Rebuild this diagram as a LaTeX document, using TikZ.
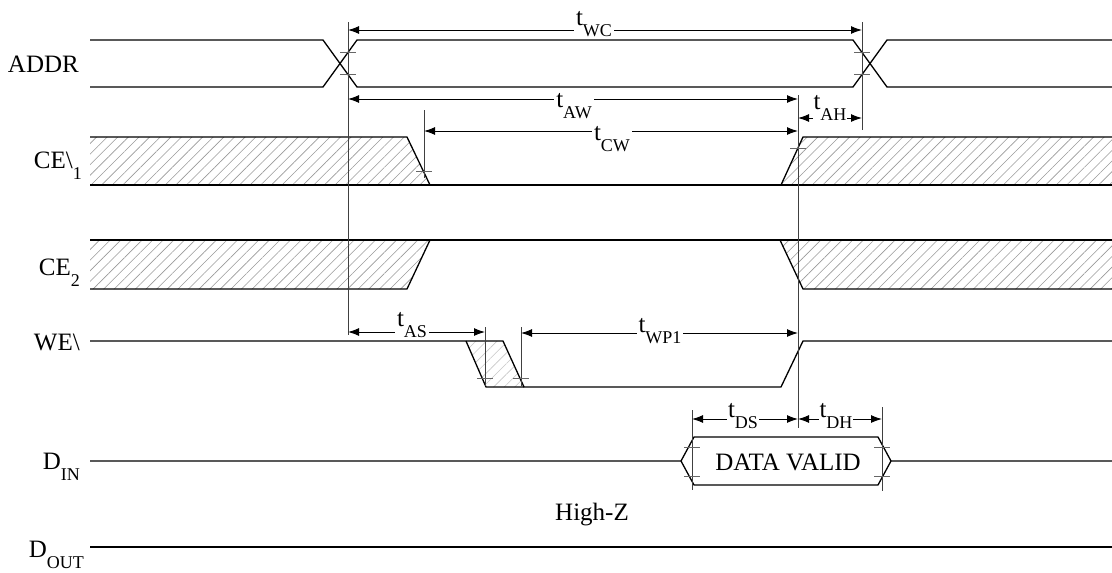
\documentclass[tikz,border=0pt]{standalone}
\usepackage{fontspec}
\setmainfont{Liberation Serif}
\usetikzlibrary{arrows.meta,patterns.meta}
\tikzstyle{sig}=[line width=1.3pt, line join=miter]
\tikzstyle{hatch}=[pattern={Lines[angle=45,distance=7.5pt,line width=0.6pt]}, pattern color=black!40]
\tikzstyle{guide}=[line width=0.9pt, black!75]
\tikzstyle{tick}=[line width=0.9pt, black!60]
\tikzstyle{dim}=[line width=1pt, {Latex[length=11pt,width=8pt]}-{Latex[length=11pt,width=8pt]}]
\tikzstyle{tname}=[fill=white, inner sep=2pt, anchor=base]
\tikzstyle{sname}=[anchor=base east, inner sep=0pt]
\newcommand{\lo}[2]{#1\raisebox{-11pt}{\fontsize{18}{18}\selectfont #2}}
\newcommand{\tmark}[2]{\draw[tick] (#1-8,#2) -- (#1+8,#2);}

\begin{document}
\begin{tikzpicture}[x=1pt, y=-1pt, font=\fontsize{25}{29}\selectfont]
\useasboundingbox (0,0) rectangle (1112,573);

% signal names
\node[sname] (addr) at (79,72) {ADDR};
\node[sname] (ce1) at (82,168) {\lo{CE\textbackslash}{1}};
\node[sname] (ce2) at (80,275) {\lo{CE}{2}};
\node[sname] (we) at (80,350) {WE\textbackslash};
\node[sname] (din) at (80,469) {\lo{D}{IN}};
\node[sname] (dout) at (84,557) {\lo{D}{OUT}};

% ADDR
\draw[sig] (90,40) -- (323,40) -- (357,87) -- (853,87) -- (887,40) -- (1112,40);
\draw[sig] (90,87) -- (323,87) -- (357,40) -- (853,40) -- (887,87) -- (1112,87);

% CE\1
\fill[hatch] (90,137) -- (407,137) -- (430,185) -- (90,185) -- cycle;
\fill[hatch] (781,185) -- (803,137) -- (1112,137) -- (1112,185) -- cycle;
\draw[sig] (90,137) -- (407,137) -- (430,185);
\draw[sig] (781,185) -- (803,137) -- (1112,137);
\draw[sig] (90,185) -- (1112,185);

% CE2
\fill[hatch] (90,240) -- (430,240) -- (407,289) -- (90,289) -- cycle;
\fill[hatch] (780,240) -- (1112,240) -- (1112,289) -- (803,289) -- cycle;
\draw[sig] (90,240) -- (1112,240);
\draw[sig] (90,289) -- (407,289) -- (430,240);
\draw[sig] (780,240) -- (803,289) -- (1112,289);

% WE\
\fill[hatch, pattern color=black!22] (466,341) -- (503,341) -- (524,387) -- (486,387) -- cycle;
\draw[sig] (90,341) -- (503,341) -- (524,387) -- (781,387) -- (803,341) -- (1112,341);
\draw[sig] (466,341) -- (486,387) -- (524,387);

% DIN
\draw[sig] (90,461) -- (681,461) -- (694,437) -- (878,437) -- (891,461) -- (1112,461);
\draw[sig] (681,461) -- (694,485) -- (878,485) -- (891,461);
\node (valid) at (788,470) [anchor=base] {DATA VALID};

% DOUT
\draw[sig] (90,547) -- (1112,547);
\node (hiz) at (592,520) [anchor=base] {High-Z};

% guide lines
\draw[guide] (348,22) -- (348,335);
\draw[guide] (862,22) -- (862,130);
\draw[guide] (424,110) -- (424,178);
\draw[guide] (798,95) -- (798,428);
\draw[guide] (485,327) -- (485,386);
\draw[guide] (521,327) -- (521,386);
\draw[guide] (692,410) -- (692,490);
\draw[guide] (882,407) -- (882,491);

% crossing marks
\tmark{348}{52} \tmark{348}{74}
\tmark{862}{52} \tmark{862}{74}
\tmark{424}{171}
\tmark{798}{148}
\tmark{485}{378} \tmark{521}{378}
\tmark{692}{447} \tmark{692}{476}
\tmark{882}{447} \tmark{882}{476}

% timing points
\coordinate (wcL) at (348,30);  \coordinate (wcR) at (862,30);
\coordinate (awL) at (348,99);  \coordinate (awR) at (798,99);
\coordinate (ahL) at (798,118); \coordinate (ahR) at (862,118);
\coordinate (cwL) at (424,131); \coordinate (cwR) at (798,131);
\coordinate (asL) at (348,332); \coordinate (asR) at (485,332);
\coordinate (wpL) at (521,333); \coordinate (wpR) at (798,333);
\coordinate (dsL) at (692,419); \coordinate (dsR) at (798,419);
\coordinate (dhL) at (798,419); \coordinate (dhR) at (882,419);

% timing arrows
\draw[dim] (wcL) -- (wcR);
\draw[dim] (awL) -- (awR);
\draw[dim] (ahL) -- (ahR);
\draw[dim] (cwL) -- (cwR);
\draw[dim] (asL) -- (asR);
\draw[dim] (wpL) -- (wpR);
\draw[dim] (dsL) -- (dsR);
\draw[dim] (dhL) -- (dhR);

\node[tname] (wc) at (594,25) {\lo{t}{WC}};
\node[tname] (aw) at (574,107) {\lo{t}{AW}};
\node[tname, inner sep=0.5pt] (ah) at (830,109) {\lo{t}{AH}};
\node[tname] (cw) at (612,140) {\lo{t}{CW}};
\node[tname] (as) at (412,326) {\lo{t}{AS}};
\node[tname] (wp) at (660,332) {\lo{t}{WP1}};
\node[tname, inner sep=1pt] (ds) at (743,417) {\lo{t}{DS}};
\node[tname, inner sep=1pt] (dh) at (836,417) {\lo{t}{DH}};
\end{tikzpicture}
\end{document}
